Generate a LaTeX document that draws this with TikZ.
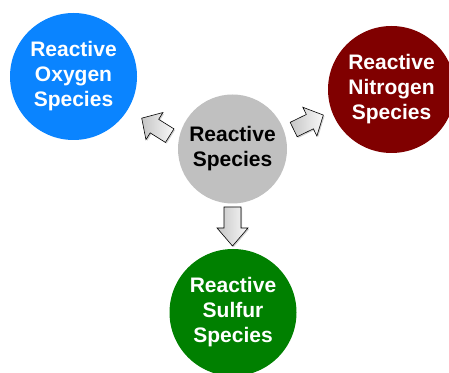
\documentclass[tikz,border=0pt]{standalone}
\usepackage{fontspec}
\setmainfont{Liberation Sans}
\usetikzlibrary{shadows}
\definecolor{rosblue}{RGB}{10,132,255}
\definecolor{rnsred}{RGB}{128,0,0}
\definecolor{rssgreen}{RGB}{0,128,0}
\definecolor{rsgray}{RGB}{192,192,192}
\tikzset{
  spec/.style={circle, inner sep=0pt, align=center,
    font=\fontsize{21}{25}\selectfont\bfseries},
  outer/.style={spec, minimum size=127pt, text=white},
  arrowfill/.style={draw=black, line width=0.6pt, line join=miter,
    left color=gray!45, right color=gray!5,
    drop shadow={opacity=0.35, shadow xshift=1.2pt, shadow yshift=-1.2pt}},
  pics/barrow/.style n args={4}{code={
    % #1 length, #2 head length, #3 head half width, #4 shaft half width
    \path[arrowfill] ({-#1/2},{-#4}) -- ({#1/2-#2},{-#4}) -- ({#1/2-#2},{-#3})
      -- ({#1/2},0) -- ({#1/2-#2},{#3}) -- ({#1/2-#2},{#4}) -- ({-#1/2},{#4}) -- cycle;
  }}
}
\begin{document}
\begin{tikzpicture}[x=1pt,y=1pt]
\useasboundingbox (0,0) rectangle (449,372);
\clip (0,0) rectangle (449,372);
\fill[white] (0,0) rectangle (449,372);

\node[outer, fill=rosblue] (ros) at (73.5,295.5) {Reactive\\Oxygen\\Species};
\node[outer, fill=rnsred] (rns) at (391.5,282.5) {Reactive\\Nitrogen\\Species};
\node[outer, fill=rssgreen] (rss) at (233,59.5) {Reactive\\Sulfur\\Species};
\node[spec, minimum size=109pt, fill=rsgray, text=black] (rs) at (232.5,223) {Reactive\\Species};

\pic (aleft) [rotate=148] at (155.7,245.1) {barrow={33}{15}{16}{8}};
\pic (aright) [rotate=26] at (308.5,249.7) {barrow={33}{15}{16}{8}};
\pic (adown) [rotate=-90] at (232.5,145.5) {barrow={39}{18}{15.5}{8.5}};
\end{tikzpicture}
\end{document}
